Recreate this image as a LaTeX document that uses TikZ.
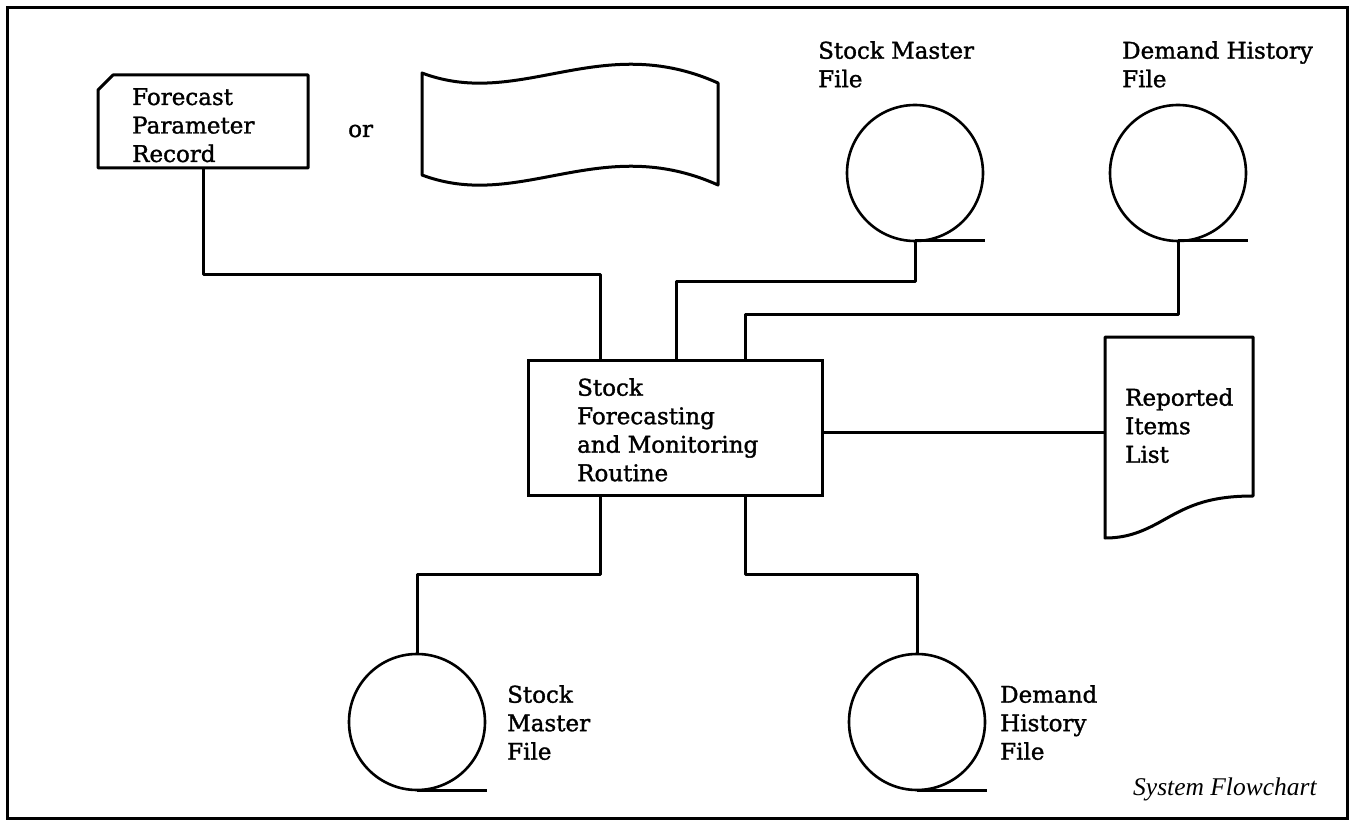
\documentclass[tikz,border=0pt]{standalone}
\usepackage{fontspec}
\setmainfont{DejaVu Serif}[FakeBold=1.4]
\newfontfamily\capfont{Liberation Serif}
\usetikzlibrary{calc}
\begin{document}
\begin{tikzpicture}[x=1pt,y=-1pt,
  lbl/.style={font=\fontsize{23}{28.5}\selectfont, align=left, anchor=north west, inner sep=0pt},
  outline/.style={draw, line width=3pt, line join=round},
  link/.style={line width=3pt, line join=round},
  reel/.style={circle, draw, minimum size=136pt, inner sep=0pt, outer sep=0pt, line width=2.6pt},
  area/.style={rectangle, inner sep=0pt, outer sep=0pt}]
\useasboundingbox (0,0) rectangle (1353,821);
% frame
\draw[line width=3pt] (7,8) rectangle (1347,818);

% punched card
\node[area, minimum width=210pt, minimum height=93pt] (card) at (203,121.5) {};
\draw[outline] ($(card.north west)+(0,15)$) -- ($(card.north west)+(15,0)$) -- (card.north east) -- (card.south east) -- (card.south west) -- cycle;
\node[lbl] (cardtxt) at (132,88) {Forecast\\Parameter\\Record};
\node[font=\fontsize{23}{28.5}\selectfont, anchor=base west, inner sep=0pt] (or) at (348,137) {or};

% punched tape
\node[area, minimum width=296pt, minimum height=102pt] (tape) at (570,129) {};
\draw[outline] (422,73) .. controls (520,110) and (600,30) .. (718,83) -- (718,185)
  .. controls (600,132) and (520,212) .. (422,175) -- cycle;

% process box
\node[area, draw, line width=3pt, minimum width=294pt, minimum height=135pt] (proc) at (675,427.5) {};
\node[lbl] (proctxt) at (577,378) {Stock\\Forecasting\\and Monitoring\\Routine};

% reels top
\node[reel] (smf1) at (915,173) {};
\node[reel] (dhf1) at (1178,173) {};
\draw[link] (smf1.south) -- ++(70,0);
\draw[link] (dhf1.south) -- ++(70,0);
\node[lbl] (smf1txt) at (818,41) {Stock Master\\File};
\node[lbl] (dhf1txt) at (1122,41) {Demand History\\File};

% reels bottom
\node[reel] (smf2) at (417,722) {};
\node[reel] (dhf2) at (917,722) {};
\draw[link] (smf2.south) -- ++(70,0);
\draw[link] (dhf2.south) -- ++(70,0);
\node[lbl] (smf2txt) at (507,685) {Stock\\Master\\File};
\node[lbl] (dhf2txt) at (1000,685) {Demand\\History\\File};

% document
\node[area, minimum width=148pt, minimum height=190pt] (doc) at (1179,432) {};
\draw[outline] (doc.north west) -- (doc.north east) -- (1253,496)
  .. controls (1205,496) and (1185,508) .. (1160,522)
  .. controls (1140,533) and (1125,538) .. (1105,538) -- cycle;
\node[lbl] (doctxt) at (1125,388) {Reported\\Items\\List};

% connectors
\draw[link] (card.south) -- ++(0,107) -| ($(proc.north west)+(72,0)$);
\draw[link] (smf1.south) -- ++(0,41) -| ($(proc.north west)+(148,0)$);
\draw[link] (dhf1.south) -- ++(0,74) -| ($(proc.north west)+(217,0)$);
\draw[link] (proc.east |- doc.west) -- (doc.west);
\draw[link] ($(proc.south west)+(72,0)$) -- ++(0,79) -| (smf2.north);
\draw[link] ($(proc.south west)+(217,0)$) -- ++(0,79) -| (dhf2.north);

% caption
\node[font=\capfont\itshape\fontsize{25.5}{30}\selectfont, anchor=base west, inner sep=0pt] (caption) at (1133,795) {System Flowchart};
\end{tikzpicture}
\end{document}
